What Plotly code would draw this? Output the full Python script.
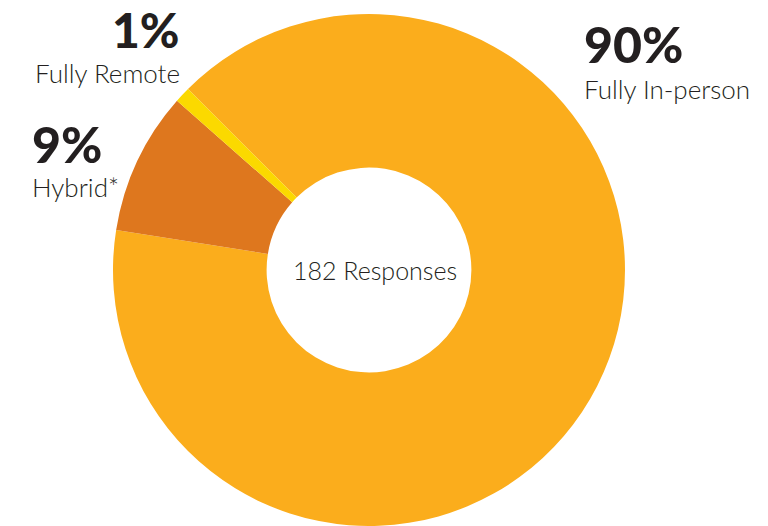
import plotly.graph_objects as go

# Work arrangement survey results
categories = ["Fully In-person", "Hybrid*", "Fully Remote"]
percentages = [90, 9, 1]
slice_colors = ["#FBAD1C", "#DE771E", "#FBD900"]
total_responses = 182

W, H = 768, 526


def px_x(x):
    return x / W


def px_y(y):
    return (H - y) / H


fig = go.Figure(
    go.Pie(
        labels=categories,
        values=percentages,
        hole=0.40,
        sort=False,
        direction="clockwise",
        rotation=-45,
        marker=dict(colors=slice_colors, line=dict(color="white", width=0)),
        textinfo="none",
        hoverinfo="skip",
        showlegend=False,
        domain=dict(x=[px_x(369 - 257), px_x(369 + 257)], y=[0, px_y(14)]),
    )
)

INK = "#231F20"
num_font = dict(family="Lato", size=50, color=INK, weight=900)
lab_font = dict(family="Lato", size=26, color=INK, weight=300)
mid_font = dict(family="Lato", size=25, color=INK, weight=300)

# category -> (anchor x, alignment, percent baseline y, label baseline y, percent size)
placements = {
    "Fully Remote": (182, "right", 48, 83, 48),
    "Hybrid*": (30, "left", 163, 197, 50),
    "Fully In-person": (582, "left", 63, 99, 50),
}


def centre_from_baseline(baseline, size):
    # Lato: box centre sits about 0.387 em above the baseline
    return baseline - 0.387 * size


annotations = []
for cat, pct in zip(categories, percentages):
    x, align, base_num, base_lab, num_size = placements[cat]
    annotations.append(dict(
        text=f"{pct}%", x=px_x(x),
        y=px_y(centre_from_baseline(base_num, num_size)),
        xref="paper", yref="paper", xanchor=align, yanchor="middle",
        showarrow=False, font={**num_font, "size": num_size},
    ))
    annotations.append(dict(
        text=cat, x=px_x(x),
        y=px_y(centre_from_baseline(base_lab, lab_font["size"])),
        xref="paper", yref="paper", xanchor=align, yanchor="middle",
        showarrow=False, font=lab_font,
    ))

annotations.append(dict(
    text=f"{total_responses} Responses", x=px_x(375),
    y=px_y(centre_from_baseline(280, mid_font["size"])),
    xref="paper", yref="paper", xanchor="center", yanchor="middle",
    showarrow=False, font=mid_font,
))

fig.update_layout(
    width=W, height=H,
    margin=dict(l=0, r=0, t=0, b=0),
    paper_bgcolor="white", plot_bgcolor="white",
    annotations=annotations,
)

fig.write_html("out.html")
